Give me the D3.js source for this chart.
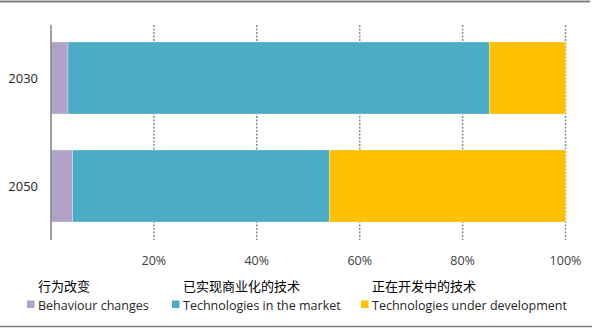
<!DOCTYPE html>
<html>
<head>
<meta charset="utf-8">
<script src="https://cdn.jsdelivr.net/npm/d3@7"></script>
<style>
  body { margin: 0; background: #fff; }
  svg { display: block; font-family: "Open Sans", "Noto Sans", sans-serif; }
</style>
</head>
<body>
<div id="container"></div>
<script>
const w = 592;
const h = 328;

// data
const years = ['2030', '2050'];
const behaviour = [3.3, 4.2];
const market = [81.9, 49.9];
const development = [14.8, 45.9];
const seriesKeys = ['behaviour', 'market', 'development'];
const seriesZh = ['行为改变', '已实现商业化的技术', '正在开发中的技术'];
const seriesEn = ['Behaviour changes', 'Technologies in the market', 'Technologies under development'];
const colors = ['#b3a2c7', '#4bacc6', '#ffc000'];
const xTicks = [20, 40, 60, 80, 100];

const rows = years.map((y, i) => ({
  year: y, behaviour: behaviour[i], market: market[i], development: development[i]
}));

const svg = d3.select('#container')
  .append('svg')
  .attr('width', w)
  .attr('height', h);

// frame lines
svg.append('line').attr('x1', 0).attr('x2', 590).attr('y1', 1.5).attr('y2', 1.5)
  .attr('stroke', '#808080').attr('stroke-width', 2);
svg.append('line').attr('x1', 0).attr('x2', 592).attr('y1', 326.5).attr('y2', 326.5)
  .attr('stroke', '#808080').attr('stroke-width', 1.5);

const scaleX = d3.scaleLinear().domain([0, 100]).range([51, 565.5]);
const scaleY = d3.scaleBand().domain(years).range([24, 240])
  .paddingInner(1 / 3).paddingOuter(1 / 6);

// gridlines
svg.append('g')
  .selectAll('line')
  .data(xTicks)
  .enter()
  .append('line')
  .attr('x1', d => scaleX(d)).attr('x2', d => scaleX(d))
  .attr('y1', 25).attr('y2', 240)
  .attr('stroke', '#8c8c8c')
  .attr('stroke-width', 1.5)
  .attr('stroke-dasharray', '2,1.5');

// stacked bars
const stack = d3.stack().keys(seriesKeys)(rows);
svg.append('g')
  .selectAll('g')
  .data(stack)
  .enter()
  .append('g')
  .attr('fill', (d, i) => colors[i])
  .selectAll('rect')
  .data(d => d)
  .enter()
  .append('rect')
  .attr('x', d => scaleX(d[0]))
  .attr('y', d => scaleY(d.data.year))
  .attr('width', d => scaleX(d[1]) - scaleX(d[0]))
  .attr('height', scaleY.bandwidth())
  .attr('stroke', '#ffffff')
  .attr('stroke-opacity', 0.35)
  .attr('stroke-width', 0.8);

// y axis line
svg.append('line').attr('x1', 51).attr('x2', 51).attr('y1', 25).attr('y2', 240)
  .attr('stroke', '#808080').attr('stroke-width', 1.5);

// y labels
svg.append('g')
  .selectAll('text')
  .data(years)
  .enter()
  .append('text')
  .attr('x', 38)
  .attr('y', d => scaleY(d) + scaleY.bandwidth() / 2 + 5)
  .attr('text-anchor', 'end')
  .attr('font-size', 13)
  .attr('fill', '#262626')
  .text(d => d);

// x tick labels
svg.append('g')
  .selectAll('text')
  .data(xTicks)
  .enter()
  .append('text')
  .attr('x', d => scaleX(d))
  .attr('y', 265)
  .attr('text-anchor', 'middle')
  .attr('font-size', 12.5)
  .attr('fill', '#404040')
  .text(d => d + '%');

// legend
const legendX = [38, 183, 372];
const legend = svg.append('g');
legend.selectAll('text.zh')
  .data(seriesZh)
  .enter()
  .append('text')
  .attr('class', 'zh')
  .attr('x', (d, i) => legendX[i])
  .attr('y', 291)
  .attr('font-family', '"Noto Sans CJK SC", sans-serif')
  .attr('font-size', 13)
  .attr('fill', '#000')
  .text(d => d);
legend.selectAll('rect')
  .data(colors)
  .enter()
  .append('rect')
  .attr('x', (d, i) => legendX[i] - 11)
  .attr('y', 300.5)
  .attr('width', 7.5)
  .attr('height', 7.5)
  .attr('fill', d => d);
legend.selectAll('text.en')
  .data(seriesEn)
  .enter()
  .append('text')
  .attr('class', 'en')
  .attr('x', (d, i) => legendX[i])
  .attr('y', 310)
  .attr('font-size', 12.5)
  .attr('fill', '#262626')
  .text(d => d);
</script>
</body>
</html>
